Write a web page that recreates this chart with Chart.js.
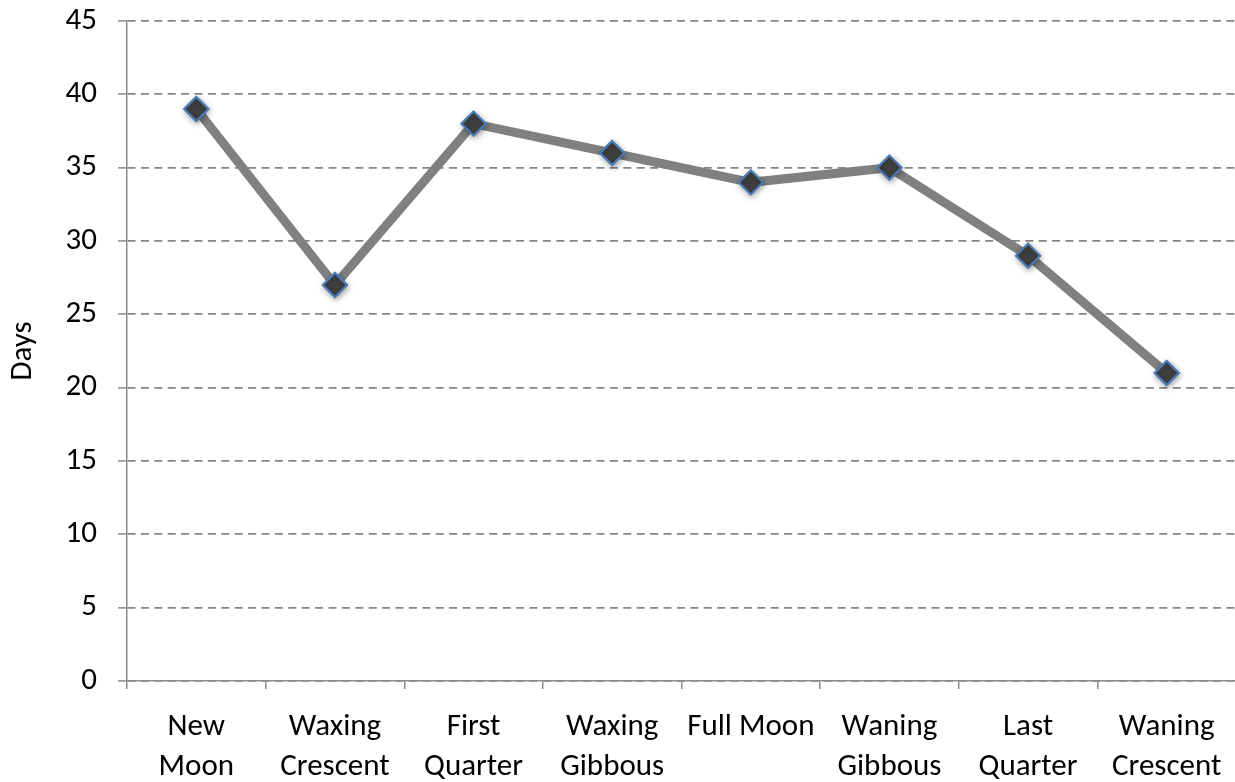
<!DOCTYPE html>
<html>
<head>
<meta charset="utf-8">
<script src="https://cdn.jsdelivr.net/npm/chart.js@4/dist/chart.umd.min.js"></script>
<style>
  html, body { margin: 0; padding: 0; background: #fff; overflow: hidden; }
  #wrap { position: relative; width: 1250px; height: 782px; }
</style>
</head>
<body>
<div id="wrap"><canvas id="moon-chart"></canvas></div>
<script>
// moon phase categories (two-line labels)
const phases = [
  ["New", "Moon"],
  ["Waxing", "Crescent"],
  ["First", "Quarter"],
  ["Waxing", "Gibbous"],
  ["Full Moon"],
  ["Waning", "Gibbous"],
  ["Last", "Quarter"],
  ["Waning", "Crescent"],
];
const days = [39, 27, 38, 36, 34, 35, 29, 21];
const yTicks = [0, 5, 10, 15, 20, 25, 30, 35, 40, 45];

const fontFamily = "Carlito, Lato, 'Open Sans', sans-serif";

// soft drop shadow under the diamond markers (Excel style)
const markerShadow = {
  id: "markerShadow",
  afterDatasetDraw(chart, args) {
    const c = chart.ctx;
    c.save();
    c.shadowColor = "rgba(0,0,0,0.35)";
    c.shadowBlur = 6;
    c.shadowOffsetX = 1;
    c.shadowOffsetY = 2;
    args.meta.data.forEach((pt) => pt.draw(c, chart.chartArea));
    c.restore();
  },
};

const ctx = document.getElementById("moon-chart").getContext("2d");
new Chart(ctx, {
  type: "line",
  data: {
    labels: phases,
    datasets: [
      {
        label: "Days",
        data: days,
        borderColor: "#808080",
        borderWidth: 9,
        tension: 0,
        pointStyle: "rectRot",
        pointRadius: 12,
        pointBackgroundColor: "#404040",
        pointBorderColor: "#4a7ebb",
        pointBorderWidth: 2,
        fill: false,
      },
    ],
  },
  options: {
    responsive: true,
    maintainAspectRatio: false,
    animation: false,
    layout: { padding: { top: 0, right: 8, left: 0, bottom: 0 } },
    plugins: { legend: { display: false }, tooltip: { enabled: false } },
    scales: {
      x: {
        offset: true,
        grid: { display: true, drawOnChartArea: false, offset: true, tickLength: 8, color: "#8c8c8c", lineWidth: 1.5 },
        border: { display: true, color: "#8c8c8c", width: 1.5 },
        ticks: {
          color: "#000",
          padding: 18,
          maxRotation: 0,
          autoSkip: false,
          font: { family: fontFamily, size: 31, lineHeight: 1.29 },
        },
        afterFit: (scale) => { scale.height = 101; },
      },
      y: {
        min: 0,
        max: 45,
        afterBuildTicks: (scale) => { scale.ticks = yTicks.map((v) => ({ value: v })); },
        grid: {
          color: "#858585",
          lineWidth: 1.8,
          tickLength: 9,
          tickBorderDash: [],
          tickColor: "#8c8c8c",
          tickWidth: 1.5,
          drawOnChartArea: true,
        },
        border: { display: true, color: "#8c8c8c", width: 1.5, dash: [8, 5.4] },
        ticks: {
          color: "#000",
          padding: 21,
          font: { family: fontFamily, size: 31 },
        },
        title: {
          display: true,
          text: "Days",
          color: "#000",
          padding: { top: 5, bottom: 0 },
          font: { family: fontFamily, size: 31 },
        },
        afterFit: (scale) => {
          scale.width = 127;
          scale.paddingTop = 21;
          scale.paddingBottom = 0;
        },
      },
    },
  },
  plugins: [markerShadow],
});
</script>
</body>
</html>
